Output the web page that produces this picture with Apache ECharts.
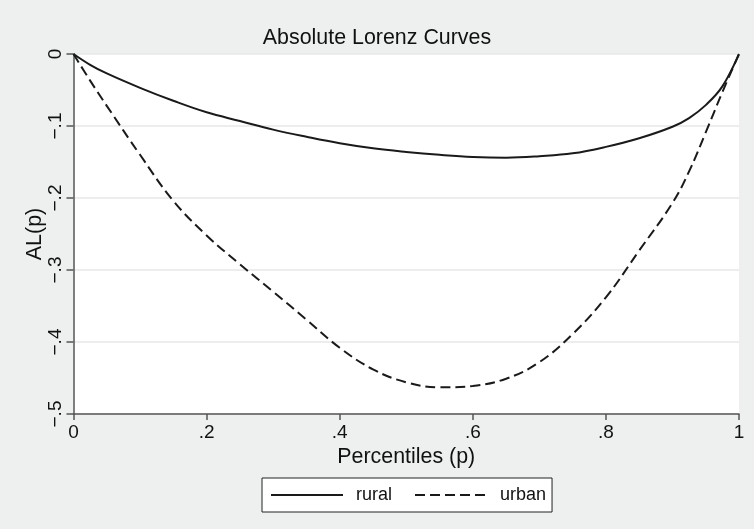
<!DOCTYPE html>
<html>
<head>
<meta charset="utf-8">
<script src="https://cdn.jsdelivr.net/npm/echarts@6/dist/echarts.min.js"></script>
<style>
  html, body { margin: 0; padding: 0; background: #eef0ef; }
  #chart { width: 754px; height: 529px; }
</style>
</head>
<body>
<div id="chart"></div>
<script>
// Percentiles (p)
const pValues = [0, 0.025, 0.05, 0.1, 0.15, 0.2, 0.25, 0.3, 0.35, 0.4, 0.45, 0.5, 0.55, 0.6, 0.65, 0.7, 0.75, 0.8, 0.85, 0.9, 0.925, 0.95, 0.975, 1];
// AL(p) rural
const ruralValues = [0, -0.015, -0.027, -0.047, -0.065, -0.081, -0.093, -0.105, -0.115, -0.124, -0.131, -0.136, -0.140, -0.143, -0.144, -0.142, -0.138, -0.129, -0.117, -0.101, -0.089, -0.071, -0.045, 0];
// AL(p) urban
const urbanValues = [0, -0.037, -0.072, -0.140, -0.204, -0.252, -0.292, -0.330, -0.369, -0.408, -0.438, -0.456, -0.463, -0.461, -0.451, -0.428, -0.389, -0.338, -0.273, -0.207, -0.163, -0.109, -0.053, 0];
const seriesNames = ['rural', 'urban'];
const xTickLabels = { '0': '0', '0.2': '.2', '0.4': '.4', '0.6': '.6', '0.8': '.8', '1': '1' };
const yTickLabels = { '0': '0', '-0.1': '\u2212.1', '-0.2': '\u2212.2', '-0.3': '\u2212.3', '-0.4': '\u2212.4', '-0.5': '\u2212.5' };

const FONT = 'Liberation Sans, Arial, Helvetica, sans-serif';
const chart = echarts.init(document.getElementById('chart'), null, { renderer: 'canvas' });

function pairs(vals) { return pValues.map((p, i) => [p, vals[i]]); }
function fmt(map) { return v => { const k = String(Math.round(v * 10) / 10); return map[k] !== undefined ? map[k] : ''; }; }

chart.setOption({
  backgroundColor: '#eef0ef',
  animation: false,
  title: {
    text: 'Absolute Lorenz Curves',
    left: 'center',
    top: 23,
    textStyle: { fontFamily: FONT, fontSize: 21.4, fontWeight: 'normal', color: '#111' }
  },
  grid: { left: 73.5, right: 15, top: 54, bottom: 115, show: true, backgroundColor: '#ffffff', borderWidth: 0 },
  legend: {
    data: seriesNames,
    left: 262,
    top: 478,
    orient: 'horizontal',
    backgroundColor: '#ffffff',
    borderColor: '#222',
    borderWidth: 1,
    borderRadius: 0,
    padding: [8, 6, 8, 8],
    itemWidth: 72,
    itemHeight: 14,
    itemGap: 22,
    itemStyle: { color: 'rgba(0,0,0,0)', borderWidth: 0, opacity: 0 },
    textStyle: { fontFamily: FONT, fontSize: 18, color: '#111', padding: [0, 0, 0, 8] }
  },
  xAxis: {
    type: 'value',
    min: 0, max: 1, interval: 0.2,
    name: 'Percentiles (p)',
    nameLocation: 'middle',
    nameGap: 33,
    nameMoveOverlap: false,
    nameTextStyle: { fontFamily: FONT, fontSize: 21.4, color: '#111' },
    axisLine: { show: true, onZero: false, lineStyle: { color: '#555', width: 1.5 } },
    axisTick: { show: true, length: 6, lineStyle: { color: '#555', width: 1.5 } },
    axisLabel: { fontFamily: FONT, fontSize: 19, color: '#111', margin: 9, formatter: fmt(xTickLabels) },
    splitLine: { show: false }
  },
  yAxis: {
    type: 'value',
    min: -0.5, max: 0, interval: 0.1,
    name: 'AL(p)',
    nameLocation: 'middle',
    nameRotate: 90,
    nameGap: 28,
    nameMoveOverlap: false,
    nameTextStyle: { fontFamily: FONT, fontSize: 21.4, color: '#111' },
    axisLine: { show: true, onZero: false, lineStyle: { color: '#555', width: 1.5 } },
    axisTick: { show: true, length: 7, lineStyle: { color: '#555', width: 1.5 } },
    axisLabel: { fontFamily: FONT, fontSize: 19, color: '#111', margin: 8, rotate: 90, formatter: fmt(yTickLabels) },
    splitLine: { show: true, lineStyle: { color: '#e6e8e8', width: 1.5 } }
  },
  series: [
    {
      name: seriesNames[0], type: 'line', data: pairs(ruralValues), smooth: 0.4,
      symbol: 'none', lineStyle: { color: '#1a1a1a', width: 2, type: 'solid' }, itemStyle: { color: '#1a1a1a' }
    },
    {
      name: seriesNames[1], type: 'line', data: pairs(urbanValues), smooth: 0.4,
      symbol: 'none', lineStyle: { color: '#1a1a1a', width: 2, type: [10, 5] }, itemStyle: { color: '#1a1a1a' }
    }
  ]
});
</script>
</body>
</html>
